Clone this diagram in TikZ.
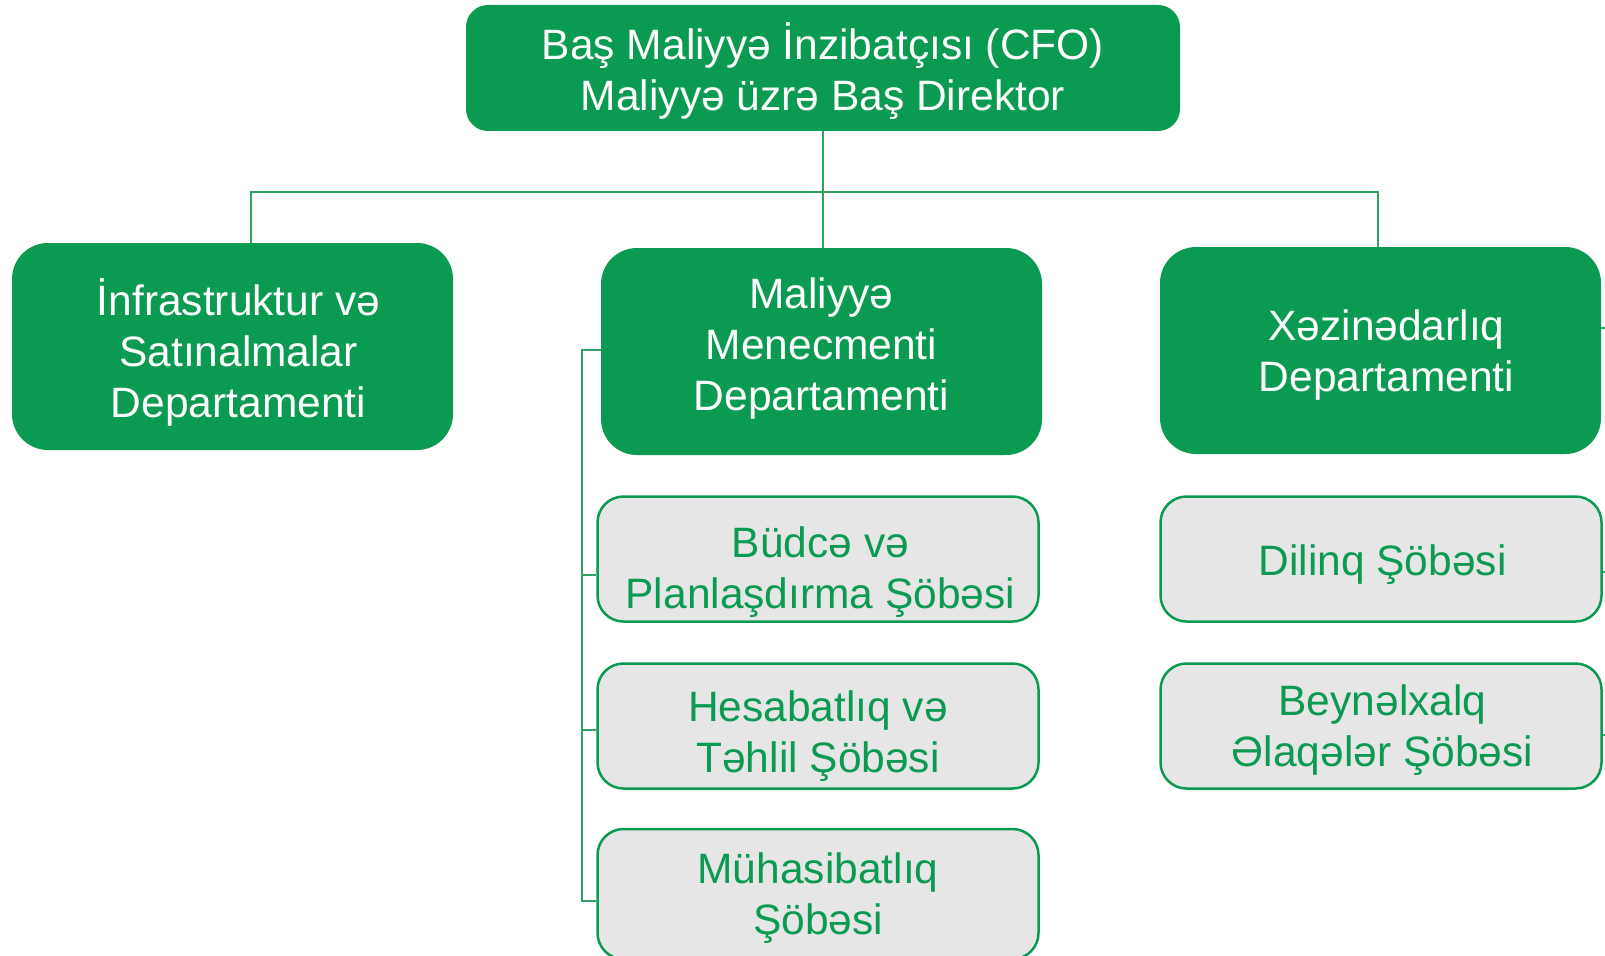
\documentclass[tikz,border=0pt]{standalone}
\usepackage{fontspec}
\setmainfont{Liberation Sans}
\definecolor{cgreen}{HTML}{0B9A52}
\definecolor{cline}{HTML}{2FA263}
\definecolor{cgrey}{HTML}{E6E6E6}
% #1 horizontal shift (twice the wanted offset), #2 raise, #3 lines
\newcommand{\boxtxt}[3]{\makebox[0pt]{\hspace*{#1}\raisebox{#2}[0pt][0pt]{\begin{tabular}{@{}c@{}}#3\end{tabular}}}}
\begin{document}
\begin{tikzpicture}[x=1pt,y=-1pt,
 txt/.style={font=\fontsize{42.5}{51}\selectfont, inner sep=0pt},
 topbox/.style={txt, fill=cgreen, text=white, rounded corners=22pt, minimum width=714pt, minimum height=126pt},
 deptbox/.style={txt, fill=cgreen, text=white, rounded corners=36pt, minimum width=441pt, minimum height=207pt},
 subbox/.style={txt, fill=cgrey, draw=cgreen, line width=2.5pt, text=cgreen, rounded corners=26pt, minimum width=441pt, minimum height=125pt},
 conn/.style={draw=cline, line width=1.4pt}]
\useasboundingbox (0,0) rectangle (1605,955);

\coordinate (busL) at (251,192);
\coordinate (busR) at (1378,192);
\coordinate (brTop) at (582,350);
\coordinate (brBot) at (582,901);
\coordinate (edgeA) at (1605,328);
\coordinate (edgeB) at (1605,572);
\coordinate (edgeC) at (1605,735);

\node[topbox] (top) at (823,68) {\boxtxt{0pt}{-12.1pt}{Baş Maliyyə İnzibatçısı (CFO)\\Maliyyə üzrə Baş Direktor}};

\node[deptbox] (infra) at (232.5,346.5) {\boxtxt{12pt}{-15pt}{İnfrastruktur və\\Satınalmalar\\Departamenti}};
\node[deptbox] (mal) at (821.5,351.5) {\boxtxt{0pt}{-3.9pt}{Maliyyə\\Menecmenti\\Departamenti}};
\node[deptbox] (xez) at (1380.5,350.5) {\boxtxt{12pt}{-11.1pt}{Xəzinədarlıq\\Departamenti}};

\node[subbox] (bud) at (818,559) {\boxtxt{5pt}{-19.6pt}{Büdcə və\\Planlaşdırma Şöbəsi}};
\node[subbox] (hes) at (818,726) {\boxtxt{0pt}{-17.4pt}{Hesabatlıq və\\Təhlil Şöbəsi}};
\node[subbox, minimum height=130pt] (muh) at (818,894) {\boxtxt{0pt}{-11.1pt}{Mühasibatlıq\\Şöbəsi}};
\node[subbox] (dil) at (1381,559) {\boxtxt{3pt}{-12.6pt}{Dilinq Şöbəsi}};
\node[subbox] (bey) at (1381,726) {\boxtxt{3pt}{-11.3pt}{Beynəlxalq\\Əlaqələr Şöbəsi}};

\draw[conn] (top.south) -- (top.south |- mal.north);
\draw[conn] (busL |- infra.north) -- (busL) -- (busR) -- (busR |- xez.north);
\draw[conn] (mal.west |- brTop) -- (brTop) -- (brBot) -- (brBot -| muh.west);
\draw[conn] (brTop |- 0,575) -- (bud.west |- 0,575);
\draw[conn] (brTop |- 0,730) -- (hes.west |- 0,730);
\draw[conn] (xez.east |- edgeA) -- (edgeA);
\draw[conn] (dil.east |- edgeB) -- (edgeB);
\draw[conn] (bey.east |- edgeC) -- (edgeC);
\end{tikzpicture}
\end{document}
